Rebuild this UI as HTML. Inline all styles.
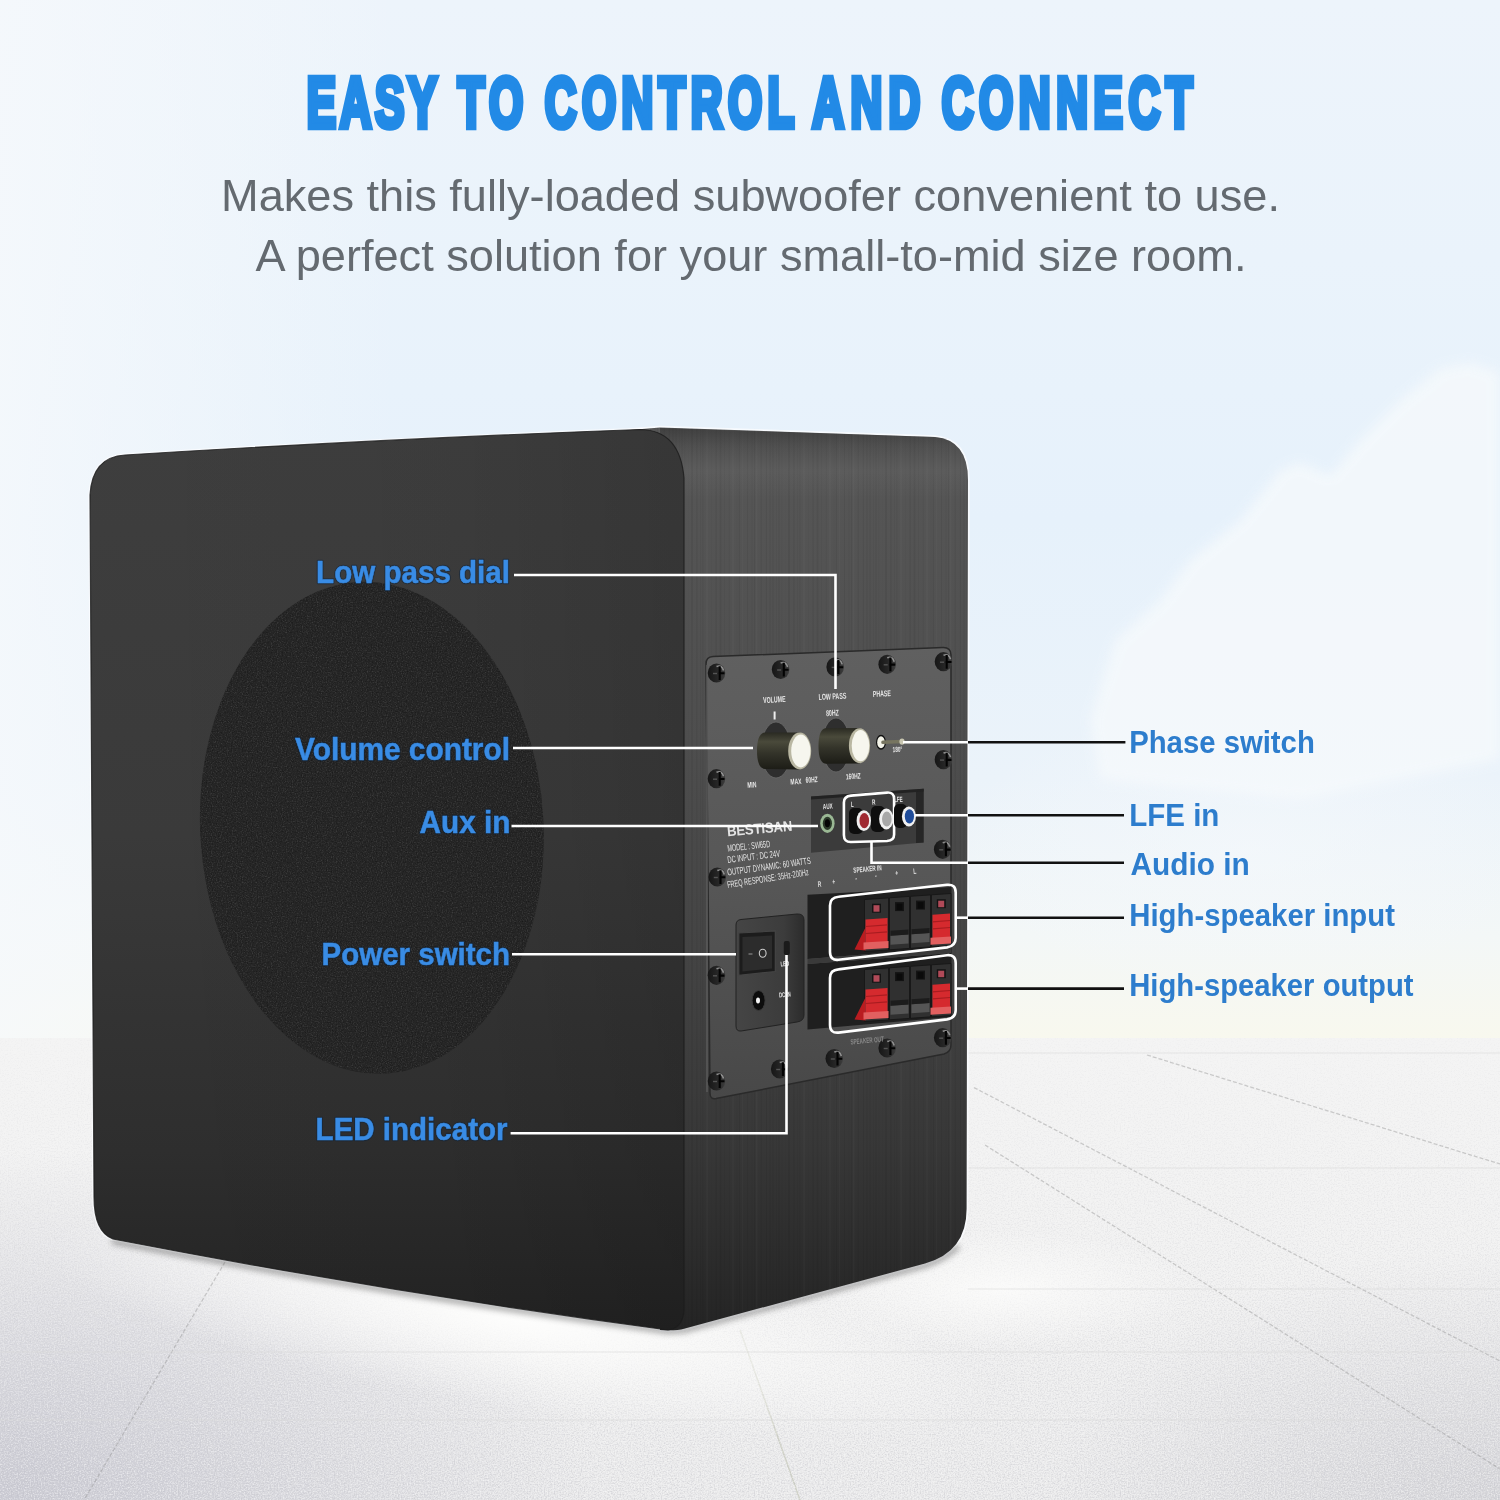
<!DOCTYPE html>
<html><head><meta charset="utf-8">
<style>
html,body{margin:0;padding:0;}
body{width:1500px;height:1500px;overflow:hidden;position:relative;font-family:"Liberation Sans",sans-serif;background:#eef4fa;}
svg{position:absolute;left:0;top:0;}
</style></head>
<body>
<svg width="1500" height="1500" viewBox="0 0 1500 1500">
<defs>
  <linearGradient id="sky" x1="0" y1="0" x2="0" y2="1">
    <stop offset="0" stop-color="#edf4fb"/>
    <stop offset="0.25" stop-color="#eaf3fb"/>
    <stop offset="0.5" stop-color="#e6f1fb"/>
    <stop offset="0.75" stop-color="#ebf3fa"/>
    <stop offset="0.9" stop-color="#f3f7f7"/>
    <stop offset="1" stop-color="#f8f8ee"/>
  </linearGradient>
  <linearGradient id="skyleft" x1="0" y1="0" x2="1" y2="0">
    <stop offset="0" stop-color="#f6f9fc" stop-opacity="0.8"/>
    <stop offset="1" stop-color="#f6f9fc" stop-opacity="0"/>
  </linearGradient>
  <radialGradient id="cloud" cx="0.5" cy="0.5" r="0.5">
    <stop offset="0" stop-color="#f7fafd" stop-opacity="0.9"/>
    <stop offset="0.6" stop-color="#f5f8fc" stop-opacity="0.5"/>
    <stop offset="1" stop-color="#f5f8fc" stop-opacity="0"/>
  </radialGradient>
  <linearGradient id="floor" x1="0" y1="0" x2="0" y2="1">
    <stop offset="0" stop-color="#f4f4f4"/>
    <stop offset="0.5" stop-color="#f1f1f1"/>
    <stop offset="1" stop-color="#eaeaeb"/>
  </linearGradient>
  <radialGradient id="floorBL" cx="0" cy="1" r="1">
    <stop offset="0" stop-color="#c9c9d2" stop-opacity="0.9"/>
    <stop offset="1" stop-color="#c9c9d2" stop-opacity="0"/>
  </radialGradient>
  <radialGradient id="floorBR" cx="1" cy="1" r="1">
    <stop offset="0" stop-color="#cfcfd4" stop-opacity="0.7"/>
    <stop offset="1" stop-color="#cfcfd4" stop-opacity="0"/>
  </radialGradient>
  <radialGradient id="refl" cx="0.5" cy="0.5" r="0.5">
    <stop offset="0" stop-color="#fdfdfc" stop-opacity="1"/>
    <stop offset="1" stop-color="#fdfdfc" stop-opacity="0"/>
  </radialGradient>
  <linearGradient id="frontH" x1="0" y1="0" x2="1" y2="0">
    <stop offset="0" stop-color="#000" stop-opacity="0"/>
    <stop offset="0.6" stop-color="#000" stop-opacity="0.03"/>
    <stop offset="1" stop-color="#000" stop-opacity="0.12"/>
  </linearGradient>
  <linearGradient id="sideTop" x1="0" y1="0" x2="0" y2="1">
    <stop offset="0" stop-color="#2a2a2a" stop-opacity="0.5"/>
    <stop offset="0.25" stop-color="#2a2a2a" stop-opacity="0.15"/>
    <stop offset="0.6" stop-color="#8a8a8a" stop-opacity="0.12"/>
    <stop offset="1" stop-color="#8a8a8a" stop-opacity="0"/>
  </linearGradient>
  <pattern id="brush" x="0" y="0" width="97" height="10" patternUnits="userSpaceOnUse"><rect x="0.0" y="0" width="1" height="10" fill="#000" opacity="0.040"/><rect x="2.2" y="0" width="1.6" height="10" fill="#000" opacity="0.038"/><rect x="5.0" y="0" width="1.6" height="10" fill="#000" opacity="0.022"/><rect x="9.1" y="0" width="0.6" height="10" fill="#000" opacity="0.025"/><rect x="12.2" y="0" width="1.6" height="10" fill="#000" opacity="0.067"/><rect x="17.0" y="0" width="1.6" height="10" fill="#000" opacity="0.049"/><rect x="21.0" y="0" width="0.8" height="10" fill="#000" opacity="0.048"/><rect x="23.2" y="0" width="1.2" height="10" fill="#000" opacity="0.047"/><rect x="27.4" y="0" width="1.6" height="10" fill="#fff" opacity="0.020"/><rect x="32.1" y="0" width="0.8" height="10" fill="#000" opacity="0.025"/><rect x="36.4" y="0" width="1.6" height="10" fill="#000" opacity="0.051"/><rect x="40.7" y="0" width="1.6" height="10" fill="#000" opacity="0.059"/><rect x="44.9" y="0" width="1.2" height="10" fill="#000" opacity="0.035"/><rect x="49.9" y="0" width="0.8" height="10" fill="#000" opacity="0.049"/><rect x="53.5" y="0" width="1" height="10" fill="#fff" opacity="0.026"/><rect x="57.7" y="0" width="0.6" height="10" fill="#000" opacity="0.046"/><rect x="59.9" y="0" width="1" height="10" fill="#000" opacity="0.067"/><rect x="63.3" y="0" width="0.6" height="10" fill="#fff" opacity="0.029"/><rect x="68.0" y="0" width="1" height="10" fill="#000" opacity="0.055"/><rect x="72.1" y="0" width="1.6" height="10" fill="#000" opacity="0.023"/><rect x="75.0" y="0" width="1" height="10" fill="#000" opacity="0.055"/><rect x="77.2" y="0" width="1" height="10" fill="#fff" opacity="0.029"/><rect x="81.6" y="0" width="1.2" height="10" fill="#000" opacity="0.056"/><rect x="86.9" y="0" width="1" height="10" fill="#000" opacity="0.067"/><rect x="90.2" y="0" width="1.6" height="10" fill="#000" opacity="0.045"/><rect x="93.5" y="0" width="1" height="10" fill="#000" opacity="0.057"/></pattern>
  <linearGradient id="front" x1="0" y1="0" x2="0" y2="1">
    <stop offset="0" stop-color="#3e3e3e"/>
    <stop offset="0.45" stop-color="#3a3a3a"/>
    <stop offset="0.8" stop-color="#2e2e2e"/>
    <stop offset="1" stop-color="#232323"/>
  </linearGradient>
  <linearGradient id="side" x1="0" y1="0" x2="0" y2="1">
    <stop offset="0" stop-color="#575757"/>
    <stop offset="0.35" stop-color="#4e4e4e"/>
    <stop offset="0.6" stop-color="#434343"/>
    <stop offset="0.8" stop-color="#373737"/>
    <stop offset="1" stop-color="#242424"/>
  </linearGradient>
  <linearGradient id="panelG" x1="0" y1="0" x2="0" y2="1">
    <stop offset="0" stop-color="#606060"/>
    <stop offset="0.5" stop-color="#575757"/>
    <stop offset="1" stop-color="#484848"/>
  </linearGradient>
  <linearGradient id="pwrG" x1="0" y1="0" x2="1" y2="0">
    <stop offset="0" stop-color="#454545"/>
    <stop offset="0.7" stop-color="#3c3c3c"/>
    <stop offset="1" stop-color="#2c2c2c"/>
  </linearGradient>
  <linearGradient id="screwG" x1="0" y1="0" x2="1" y2="0">
    <stop offset="0" stop-color="#161616"/>
    <stop offset="0.55" stop-color="#262626"/>
    <stop offset="1" stop-color="#3e3e3e"/>
  </linearGradient>
  <filter id="blur6" x="-10%" y="-10%" width="120%" height="120%"><feGaussianBlur stdDeviation="6"/></filter>
  <filter id="fabricL" x="0" y="0" width="100%" height="100%">
    <feTurbulence type="fractalNoise" baseFrequency="0.8" numOctaves="2" seed="3"/>
    <feColorMatrix type="matrix" values="0 0 0 0 1  0 0 0 0 1  0 0 0 0 1  2.5 0 0 0 -1.3"/>
  </filter>
  <filter id="fabricD" x="0" y="0" width="100%" height="100%">
    <feTurbulence type="fractalNoise" baseFrequency="0.8" numOctaves="2" seed="3"/>
    <feColorMatrix type="matrix" values="0 0 0 0 0  0 0 0 0 0  0 0 0 0 0  -2.5 0 0 0 1.2"/>
  </filter>
  <filter id="floorNoiseD" x="0" y="0" width="100%" height="100%">
    <feTurbulence type="fractalNoise" baseFrequency="0.7" numOctaves="2" seed="11"/>
    <feColorMatrix type="matrix" values="0 0 0 0 0.45  0 0 0 0 0.45  0 0 0 0 0.5  -3 0 0 0 1.55"/>
  </filter>
  <filter id="floorNoiseL" x="0" y="0" width="100%" height="100%">
    <feTurbulence type="fractalNoise" baseFrequency="0.7" numOctaves="2" seed="11"/>
    <feColorMatrix type="matrix" values="0 0 0 0 1  0 0 0 0 1  0 0 0 0 1  3 0 0 0 -1.5"/>
  </filter>
  <linearGradient id="noiseMaskG" x1="0" y1="0" x2="0" y2="1">
    <stop offset="0" stop-color="#fff" stop-opacity="0.15"/>
    <stop offset="1" stop-color="#fff" stop-opacity="1"/>
  </linearGradient>
  <mask id="noiseMask" maskUnits="userSpaceOnUse" x="0" y="1038" width="1500" height="462"><rect x="0" y="1038" width="1500" height="462" fill="url(#noiseMaskG)"/></mask>
  <clipPath id="grilleClip"><ellipse cx="371.85" cy="827.8" rx="171.7" ry="246.2" transform="rotate(-3.09 371.85 827.8)"/></clipPath>
  <linearGradient id="knobG" x1="0" y1="0" x2="0" y2="1">
    <stop offset="0" stop-color="#2a2a22"/>
    <stop offset="0.25" stop-color="#4a4a3b"/>
    <stop offset="0.55" stop-color="#34342a"/>
    <stop offset="1" stop-color="#1c1c16"/>
  </linearGradient>
  <filter id="blur3" x="-10%" y="-10%" width="120%" height="120%"><feGaussianBlur stdDeviation="3"/></filter>
  <filter id="blur1" x="-10%" y="-10%" width="120%" height="120%"><feGaussianBlur stdDeviation="1.2"/></filter>
</defs>
<rect x="0" y="0" width="1500" height="1040" fill="url(#sky)"/>
<rect x="0" y="0" width="400" height="1040" fill="url(#skyleft)"/>
<path d="M1090 720 L1115 640 L1160 600 L1190 560 L1240 520 L1280 470 L1300 462 L1330 475 L1360 440 L1400 400 L1440 368 L1470 362 L1500 372 L1500 760 L1300 800 L1100 780 Z" fill="#f5f9fc" opacity="0.85" filter="url(#blur6)"/>
<ellipse cx="1250" cy="850" rx="300" ry="150" fill="url(#cloud)" opacity="0.5"/>
<rect x="0" y="1038" width="1500" height="462" fill="url(#floor)"/>
<rect x="0" y="1150" width="600" height="350" fill="url(#floorBL)"/>
<rect x="1050" y="1250" width="450" height="250" fill="url(#floorBR)"/>
<path d="M740 1330 L800 1500" stroke="#b4b8a0" stroke-width="1.5" opacity="0.45"/>
<g mask="url(#noiseMask)">
<rect x="0" y="1038" width="1500" height="462" filter="url(#floorNoiseD)" opacity="0.35"/>
<rect x="0" y="1038" width="1500" height="462" filter="url(#floorNoiseL)" opacity="0.5"/>
</g>
<ellipse cx="520" cy="1320" rx="480" ry="90" fill="url(#refl)" transform="rotate(9 520 1320)"/>
<ellipse cx="1000" cy="1290" rx="200" ry="60" fill="url(#refl)" opacity="0.8"/>
<g stroke="#8c8c8c" stroke-width="1.3" fill="none" opacity="0.4" stroke-dasharray="4 2">
<path d="M974 1087.6 L1500 1361"/>
<path d="M985 1145 L1500 1469"/>
<path d="M1147 1055 L1500 1164"/>
<path d="M225 1262 L84 1500"/>
</g>
<g stroke="#dadada" stroke-width="1.2" fill="none" opacity="0.6">
<path d="M968 1053 H1500"/>
<path d="M968 1168 H1500"/>
<path d="M968 1289 H1500"/>
<path d="M0 1352 H1500"/>
<path d="M0 1420 H1500"/>
</g>

<!-- speaker silhouette (side color) -->
<path d="M630 430 L660 427.5 L935 437 Q968 440 968 480 L966.6 1208 Q967 1252 925 1263.5 L684 1328.8 Q676 1331 660 1330 Z" fill="none" stroke="#fbfdff" stroke-width="3.5" opacity="0.8"/><path d="M90 495 Q92 457 125 455 Q390 438.5 640 429.5 Q680 430 684 478 L684 1310 Q683 1328 668 1330 Q390 1292.5 113 1239 Q94 1232 94 1197 Z" fill="none" stroke="#fbfdff" stroke-width="3.5" opacity="0.8"/>
<path d="M112 1241 Q390 1294.5 668 1331 L684 1330 L925 1265 Q945 1259 958 1246" stroke="#555" stroke-width="5" fill="none" filter="url(#blur3)" opacity="0.6"/>
<path d="M630 430 L660 427.5 L935 437 Q968 440 968 480 L966.6 1208 Q967 1252 925 1263.5 L684 1328.8 Q676 1331 660 1330 Z" fill="url(#side)"/>
<!-- front face -->
<path d="M630 430 L660 427.5 L935 437 Q968 440 968 480 L966.6 1208 Q967 1252 925 1263.5 L684 1328.8 Q676 1331 660 1330 Z" fill="url(#brush)"/>
<path d="M660 428 L935 437 Q968 440 968 480 L968 500 L660 500 Z" fill="url(#sideTop)"/>
<path d="M90 495 Q92 457 125 455 Q390 438.5 640 429.5 Q680 430 684 478 L684 1310 Q683 1328 668 1330 Q390 1292.5 113 1239 Q94 1232 94 1197 Z" fill="url(#front)"/>
<path d="M90 495 Q92 457 125 455 Q390 438.5 640 429.5 Q680 430 684 478 L684 1310 Q683 1328 668 1330 Q390 1292.5 113 1239 Q94 1232 94 1197 Z" fill="url(#frontH)"/>
<path d="M90 495 Q92 457 125 455 Q390 438.5 640 429.5 Q680 430 684 478 L684 1310 Q683 1328 668 1330 Q390 1292.5 113 1239 Q94 1232 94 1197 Z" fill="none" stroke="#1c1c1c" stroke-width="1.2" opacity="0.8"/>
<!-- grille -->
<ellipse cx="371.85" cy="827.8" rx="171.7" ry="246.2" transform="rotate(-3.09 371.85 827.8)" fill="#262626"/>
<rect x="200" y="583" width="346" height="494" filter="url(#fabricL)" clip-path="url(#grilleClip)" opacity="0.12"/>
<rect x="200" y="583" width="346" height="494" filter="url(#fabricD)" clip-path="url(#grilleClip)" opacity="0.35"/>
<!-- back panel -->
<path d="M706 664 Q706 657 713 656.6 L943 647.6 Q951 647.4 951 655 L951 1045 Q951 1052 944 1054 L716 1098.6 Q710 1099.6 710 1093 Z" fill="url(#panelG)" stroke="#2a2a2a" stroke-width="1.5"/>
<path d="M707 665 L707 1092" stroke="#5a5a5a" stroke-width="1.5"/>
<!-- jack recess -->
<path d="M811 796.5 L923.6 788.7 L923.6 842.4 L811 852.8 Z" fill="#3b3b3b"/>
<path d="M916 790 L923.6 788.7 L923.6 842.4 L916 843 Z" fill="#262626"/>
<path d="M811 796.5 L923.6 788.7 L923.6 791.5 L811 799.5 Z" fill="#222"/>
<!-- power module -->
<path d="M741 919.5 L797 914 Q804 913.6 804 920 L804 1015 Q804 1021 797 1022 L741 1031 Q736 1031.5 736 1026 L736 925 Q736 920 741 919.5 Z" fill="url(#pwrG)" stroke="#222" stroke-width="1"/>
<!-- rocker -->
<path d="M738.8 933 L775.3 931 L775.3 971.5 L738.8 975.3 Z" fill="#1c1c1c" stroke="#444" stroke-width="1.2"/>
<path d="M742.5 937 L772 935.5 L772 968.5 L742.5 971.5 Z" fill="#2c2c2c"/>
<path d="M748.5 954 H752.5" stroke="#888" stroke-width="1.2"/>
<ellipse cx="762.7" cy="953.2" rx="3.4" ry="4" fill="none" stroke="#ccc" stroke-width="1.1"/>
<!-- DC jack -->
<ellipse cx="758.6" cy="1000.5" rx="6.5" ry="10" fill="#0c0c0c" stroke="#3a3a3a" stroke-width="1"/>
<ellipse cx="758" cy="1000.5" rx="2" ry="3" fill="#f4f4f4"/>
<!-- LED -->
<rect x="783.8" y="941" width="6" height="14" rx="2" fill="#1b1b1b"/>
<!-- terminal blocks -->
<path d="M807.5 894.7 L951 887 L951 947.6 L807.5 959 Z" fill="#1f1f1f"/>
<path d="M807.5 964 L951 953 L951 1017 L807.5 1029.5 Z" fill="#1f1f1f"/>
<path d="M807.5 959 L951 947.6 L951 953 L807.5 964 Z" fill="#3a3a3a"/>
<path d="M864.5 899.5 L888.5 897.9 L888.5 949.9 L864.5 951.5 Z" fill="#303030" stroke="#161616" stroke-width="0.9"/><rect x="872.0" y="903.7" width="9" height="9" fill="#141414"/><rect x="873.5" y="905.2" width="6" height="6.5" fill="#b04a58"/><path d="M865.5 927.5 L854.5 949.5 L865.5 950.5 Z" fill="#b91c20"/><path d="M865.5 919.5 L887.5 917.9 L887.5 941.9 L865.5 943.5 Z" fill="#d52a2e"/><path d="M865.5 926.5 L887.5 924.9 M865.5 933.5 L887.5 931.9" stroke="#a81c20" stroke-width="1.2"/><path d="M863.5 942.5 L888.5 940.9 L888.5 947.9 L863.5 949.5 Z" fill="#e26060"/><path d="M889.5 897.8 L909.5 896.4 L909.5 948.4 L889.5 949.8 Z" fill="#303030" stroke="#161616" stroke-width="0.9"/><rect x="895.0" y="902.1" width="9" height="9" fill="#141414"/><rect x="896.5" y="903.6" width="6" height="6.5" fill="#0a0a0a"/><path d="M890.5 935.8 L908.5 934.4 L908.5 943.4 L890.5 944.8 Z" fill="#555"/><path d="M890.5 930.8 L908.5 929.4 L908.5 934.4 L890.5 935.8 Z" fill="#1c1c1c"/><path d="M910.5 896.3 L930.5 894.9 L930.5 946.9 L910.5 948.3 Z" fill="#303030" stroke="#161616" stroke-width="0.9"/><rect x="916.0" y="900.6" width="9" height="9" fill="#141414"/><rect x="917.5" y="902.1" width="6" height="6.5" fill="#0a0a0a"/><path d="M911.5 934.3 L929.5 932.9 L929.5 941.9 L911.5 943.3 Z" fill="#555"/><path d="M911.5 929.3 L929.5 927.9 L929.5 932.9 L911.5 934.3 Z" fill="#1c1c1c"/><path d="M931.5 894.8 L951 893.5 L951 945.5 L931.5 946.8 Z" fill="#303030" stroke="#161616" stroke-width="0.9"/><rect x="936.8" y="899.2" width="9" height="9" fill="#141414"/><rect x="938.2" y="900.7" width="6" height="6.5" fill="#b04a58"/><path d="M932.5 914.8 L950 913.5 L950 937.5 L932.5 938.8 Z" fill="#d52a2e"/><path d="M932.5 921.8 L950 920.5 M932.5 928.8 L950 927.5" stroke="#a81c20" stroke-width="1.2"/><path d="M930.5 937.8 L951 936.5 L951 943.5 L930.5 944.8 Z" fill="#e26060"/><path d="M864.5 969.5 L888.5 967.9 L888.5 1019.9 L864.5 1021.5 Z" fill="#303030" stroke="#161616" stroke-width="0.9"/><rect x="872.0" y="973.7" width="9" height="9" fill="#141414"/><rect x="873.5" y="975.2" width="6" height="6.5" fill="#b04a58"/><path d="M865.5 997.5 L854.5 1019.5 L865.5 1020.5 Z" fill="#b91c20"/><path d="M865.5 989.5 L887.5 987.9 L887.5 1011.9 L865.5 1013.5 Z" fill="#d52a2e"/><path d="M865.5 996.5 L887.5 994.9 M865.5 1003.5 L887.5 1001.9" stroke="#a81c20" stroke-width="1.2"/><path d="M863.5 1012.5 L888.5 1010.9 L888.5 1017.9 L863.5 1019.5 Z" fill="#e26060"/><path d="M889.5 967.8 L909.5 966.4 L909.5 1018.4 L889.5 1019.8 Z" fill="#303030" stroke="#161616" stroke-width="0.9"/><rect x="895.0" y="972.1" width="9" height="9" fill="#141414"/><rect x="896.5" y="973.6" width="6" height="6.5" fill="#0a0a0a"/><path d="M890.5 1005.8 L908.5 1004.4 L908.5 1013.4 L890.5 1014.8 Z" fill="#555"/><path d="M890.5 1000.8 L908.5 999.4 L908.5 1004.4 L890.5 1005.8 Z" fill="#1c1c1c"/><path d="M910.5 966.3 L930.5 964.9 L930.5 1016.9 L910.5 1018.3 Z" fill="#303030" stroke="#161616" stroke-width="0.9"/><rect x="916.0" y="970.6" width="9" height="9" fill="#141414"/><rect x="917.5" y="972.1" width="6" height="6.5" fill="#0a0a0a"/><path d="M911.5 1004.3 L929.5 1002.9 L929.5 1011.9 L911.5 1013.3 Z" fill="#555"/><path d="M911.5 999.3 L929.5 997.9 L929.5 1002.9 L911.5 1004.3 Z" fill="#1c1c1c"/><path d="M931.5 964.8 L951 963.5 L951 1015.5 L931.5 1016.8 Z" fill="#303030" stroke="#161616" stroke-width="0.9"/><rect x="936.8" y="969.2" width="9" height="9" fill="#141414"/><rect x="938.2" y="970.7" width="6" height="6.5" fill="#b04a58"/><path d="M932.5 984.8 L950 983.5 L950 1007.5 L932.5 1008.8 Z" fill="#d52a2e"/><path d="M932.5 991.8 L950 990.5 M932.5 998.8 L950 997.5" stroke="#a81c20" stroke-width="1.2"/><path d="M930.5 1007.8 L951 1006.5 L951 1013.5 L930.5 1014.8 Z" fill="#e26060"/>
<!-- white outlines -->
<g fill="none" stroke="#fff" stroke-width="2.6">
<path d="M838.5 896.8 L947 884.8 Q955.7 884 955.7 892.5 L955.7 938 Q955.7 946 947 947.4 L838.5 959.8 Q830 960.6 830 952 L830 905.5 Q830 897.5 838.5 896.8 Z"/>
<path d="M838.5 969.4 L947 955.2 Q955.7 954.4 955.7 963 L955.7 1010 Q955.7 1018 947 1019.4 L838.5 1032.6 Q830 1033.4 830 1025 L830 978 Q830 970 838.5 969.4 Z"/>
<path d="M851 795.6 L887 792.6 Q894.1 792 894.1 799 L894.1 834.5 Q894.1 840.5 887 841 L851 842 Q843.9 842.2 843.9 835 L843.9 802.5 Q843.9 796.2 851 795.6 Z"/>
</g>
<!-- jacks -->
<ellipse cx="827.4" cy="823.3" rx="7.2" ry="9.6" fill="#9ab894"/>
<ellipse cx="827.4" cy="823.3" rx="4.6" ry="6.6" fill="#2c3a2a"/>
<ellipse cx="827.4" cy="823.3" rx="2.6" ry="4" fill="#050505"/>
<rect x="849" y="808" width="14" height="26" rx="5" fill="#0e0e0e"/>
<ellipse cx="863.8" cy="820.7" rx="7.2" ry="10.4" fill="#f0f0f0"/>
<ellipse cx="864.3" cy="820.7" rx="4.8" ry="7.6" fill="#a02a32"/>
<rect x="871" y="806" width="14" height="26" rx="5" fill="#0e0e0e"/>
<ellipse cx="886.3" cy="819" rx="7.2" ry="10.4" fill="#f0f0f0"/>
<ellipse cx="886.8" cy="819" rx="4.8" ry="7.6" fill="#a8a8a8"/>
<rect x="894" y="804" width="13" height="24" rx="5" fill="#0e0e0e"/>
<ellipse cx="908.9" cy="816.4" rx="7" ry="10" fill="#f0f0f0"/>
<ellipse cx="909.4" cy="816.4" rx="4.6" ry="7.2" fill="#1f4c9a"/>
<!-- knobs -->
<ellipse cx="776" cy="750" rx="15" ry="28" fill="#2e2e2e" stroke="#6a6a6a" stroke-width="0.8"/>
<path d="M800 732.5 L765 732.5 Q757 733 757 750.5 Q757 768.5 765 769 L800 769.5 Z" fill="url(#knobG)"/>
<ellipse cx="799.7" cy="751" rx="11.5" ry="18.4" fill="#b9b7a2"/>
<ellipse cx="800.8" cy="751" rx="9.6" ry="16.4" fill="#f6f6ee"/>
<ellipse cx="836" cy="745" rx="14" ry="27" fill="#2e2e2e" stroke="#6a6a6a" stroke-width="0.8"/>
<path d="M860 728 L826 728.2 Q818.5 728.6 818.5 746 Q818.5 763.4 826 763.8 L860 763.5 Z" fill="url(#knobG)"/>
<ellipse cx="859.5" cy="745.7" rx="10.6" ry="17.5" fill="#b9b7a2"/>
<ellipse cx="860.5" cy="745.7" rx="8.8" ry="15.6" fill="#f6f6ee"/>
<!-- phase toggle -->
<ellipse cx="881" cy="742.3" rx="5" ry="7.5" fill="#111"/>
<ellipse cx="881" cy="742.3" rx="3.8" ry="6" fill="#f2f2e8"/>
<path d="M883 742.3 L902 741.5" stroke="#777560" stroke-width="3.6" stroke-linecap="round"/>
<ellipse cx="902" cy="741.6" rx="2.6" ry="3.2" fill="#c8c6b0"/>
<!-- volume tick -->
<rect x="773.6" y="711.5" width="2" height="8" fill="#eee"/>
<g transform="translate(716.5 673)"><ellipse rx="8.8" ry="9.6" fill="url(#screwG)"/><path d="M0 -6.5 Q5.5 -8.5 7 -2.5" stroke="#a0a0a0" stroke-width="1.6" fill="none" opacity="0.85"/><path d="M3.2 -6.8 V7 M2 0.3 H8" stroke="#030303" stroke-width="2.1" fill="none"/><path d="M-3.5 0.5 H0.5" stroke="#777" stroke-width="1.4" opacity="0.6"/></g><g transform="translate(780.6 669.5)"><ellipse rx="8.8" ry="9.6" fill="url(#screwG)"/><path d="M0 -6.5 Q5.5 -8.5 7 -2.5" stroke="#a0a0a0" stroke-width="1.6" fill="none" opacity="0.85"/><path d="M3.2 -6.8 V7 M2 0.3 H8" stroke="#030303" stroke-width="2.1" fill="none"/><path d="M-3.5 0.5 H0.5" stroke="#777" stroke-width="1.4" opacity="0.6"/></g><g transform="translate(835.2 666.9)"><ellipse rx="8.8" ry="9.6" fill="url(#screwG)"/><path d="M0 -6.5 Q5.5 -8.5 7 -2.5" stroke="#a0a0a0" stroke-width="1.6" fill="none" opacity="0.85"/><path d="M3.2 -6.8 V7 M2 0.3 H8" stroke="#030303" stroke-width="2.1" fill="none"/><path d="M-3.5 0.5 H0.5" stroke="#777" stroke-width="1.4" opacity="0.6"/></g><g transform="translate(887.2 664.3)"><ellipse rx="8.8" ry="9.6" fill="url(#screwG)"/><path d="M0 -6.5 Q5.5 -8.5 7 -2.5" stroke="#a0a0a0" stroke-width="1.6" fill="none" opacity="0.85"/><path d="M3.2 -6.8 V7 M2 0.3 H8" stroke="#030303" stroke-width="2.1" fill="none"/><path d="M-3.5 0.5 H0.5" stroke="#777" stroke-width="1.4" opacity="0.6"/></g><g transform="translate(943.5 661.7)"><ellipse rx="8.8" ry="9.6" fill="url(#screwG)"/><path d="M0 -6.5 Q5.5 -8.5 7 -2.5" stroke="#a0a0a0" stroke-width="1.6" fill="none" opacity="0.85"/><path d="M3.2 -6.8 V7 M2 0.3 H8" stroke="#030303" stroke-width="2.1" fill="none"/><path d="M-3.5 0.5 H0.5" stroke="#777" stroke-width="1.4" opacity="0.6"/></g><g transform="translate(716.5 778.7)"><ellipse rx="8.8" ry="9.6" fill="url(#screwG)"/><path d="M0 -6.5 Q5.5 -8.5 7 -2.5" stroke="#a0a0a0" stroke-width="1.6" fill="none" opacity="0.85"/><path d="M3.2 -6.8 V7 M2 0.3 H8" stroke="#030303" stroke-width="2.1" fill="none"/><path d="M-3.5 0.5 H0.5" stroke="#777" stroke-width="1.4" opacity="0.6"/></g><g transform="translate(943.5 759.6)"><ellipse rx="8.8" ry="9.6" fill="url(#screwG)"/><path d="M0 -6.5 Q5.5 -8.5 7 -2.5" stroke="#a0a0a0" stroke-width="1.6" fill="none" opacity="0.85"/><path d="M3.2 -6.8 V7 M2 0.3 H8" stroke="#030303" stroke-width="2.1" fill="none"/><path d="M-3.5 0.5 H0.5" stroke="#777" stroke-width="1.4" opacity="0.6"/></g><g transform="translate(717.3 877)"><ellipse rx="8.8" ry="9.6" fill="url(#screwG)"/><path d="M0 -6.5 Q5.5 -8.5 7 -2.5" stroke="#a0a0a0" stroke-width="1.6" fill="none" opacity="0.85"/><path d="M3.2 -6.8 V7 M2 0.3 H8" stroke="#030303" stroke-width="2.1" fill="none"/><path d="M-3.5 0.5 H0.5" stroke="#777" stroke-width="1.4" opacity="0.6"/></g><g transform="translate(942.7 849.3)"><ellipse rx="8.8" ry="9.6" fill="url(#screwG)"/><path d="M0 -6.5 Q5.5 -8.5 7 -2.5" stroke="#a0a0a0" stroke-width="1.6" fill="none" opacity="0.85"/><path d="M3.2 -6.8 V7 M2 0.3 H8" stroke="#030303" stroke-width="2.1" fill="none"/><path d="M-3.5 0.5 H0.5" stroke="#777" stroke-width="1.4" opacity="0.6"/></g><g transform="translate(716.5 975.3)"><ellipse rx="8.8" ry="9.6" fill="url(#screwG)"/><path d="M0 -6.5 Q5.5 -8.5 7 -2.5" stroke="#a0a0a0" stroke-width="1.6" fill="none" opacity="0.85"/><path d="M3.2 -6.8 V7 M2 0.3 H8" stroke="#030303" stroke-width="2.1" fill="none"/><path d="M-3.5 0.5 H0.5" stroke="#777" stroke-width="1.4" opacity="0.6"/></g><g transform="translate(716.5 1081)"><ellipse rx="8.8" ry="9.6" fill="url(#screwG)"/><path d="M0 -6.5 Q5.5 -8.5 7 -2.5" stroke="#a0a0a0" stroke-width="1.6" fill="none" opacity="0.85"/><path d="M3.2 -6.8 V7 M2 0.3 H8" stroke="#030303" stroke-width="2.1" fill="none"/><path d="M-3.5 0.5 H0.5" stroke="#777" stroke-width="1.4" opacity="0.6"/></g><g transform="translate(779.7 1069)"><ellipse rx="8.8" ry="9.6" fill="url(#screwG)"/><path d="M0 -6.5 Q5.5 -8.5 7 -2.5" stroke="#a0a0a0" stroke-width="1.6" fill="none" opacity="0.85"/><path d="M3.2 -6.8 V7 M2 0.3 H8" stroke="#030303" stroke-width="2.1" fill="none"/><path d="M-3.5 0.5 H0.5" stroke="#777" stroke-width="1.4" opacity="0.6"/></g><g transform="translate(834.3 1058.5)"><ellipse rx="8.8" ry="9.6" fill="url(#screwG)"/><path d="M0 -6.5 Q5.5 -8.5 7 -2.5" stroke="#a0a0a0" stroke-width="1.6" fill="none" opacity="0.85"/><path d="M3.2 -6.8 V7 M2 0.3 H8" stroke="#030303" stroke-width="2.1" fill="none"/><path d="M-3.5 0.5 H0.5" stroke="#777" stroke-width="1.4" opacity="0.6"/></g><g transform="translate(887.2 1048)"><ellipse rx="8.8" ry="9.6" fill="url(#screwG)"/><path d="M0 -6.5 Q5.5 -8.5 7 -2.5" stroke="#a0a0a0" stroke-width="1.6" fill="none" opacity="0.85"/><path d="M3.2 -6.8 V7 M2 0.3 H8" stroke="#030303" stroke-width="2.1" fill="none"/><path d="M-3.5 0.5 H0.5" stroke="#777" stroke-width="1.4" opacity="0.6"/></g><g transform="translate(942.7 1037.7)"><ellipse rx="8.8" ry="9.6" fill="url(#screwG)"/><path d="M0 -6.5 Q5.5 -8.5 7 -2.5" stroke="#a0a0a0" stroke-width="1.6" fill="none" opacity="0.85"/><path d="M3.2 -6.8 V7 M2 0.3 H8" stroke="#030303" stroke-width="2.1" fill="none"/><path d="M-3.5 0.5 H0.5" stroke="#777" stroke-width="1.4" opacity="0.6"/></g>
<g fill="#e8e8e8" font-family="Liberation Sans" font-weight="bold" text-anchor="middle" opacity="0.995">
<text transform="translate(774.5 702.5) rotate(-3) scale(0.62 1)" font-size="8.5">VOLUME</text>
<text transform="translate(832.6 699.3) rotate(-3) scale(0.62 1)" font-size="8.5">LOW  PASS</text>
<text transform="translate(882 696.5) rotate(-3) scale(0.62 1)" font-size="8.5">PHASE</text>
<text transform="translate(832.6 715.8) rotate(-3) scale(0.62 1)" font-size="8.5">80HZ</text>
<text transform="translate(752 787.6) rotate(-3) scale(0.62 1)" font-size="8">MIN</text>
<text transform="translate(796 784.3) rotate(-3) scale(0.62 1)" font-size="8">MAX</text>
<text transform="translate(811.8 782.5) rotate(-3) scale(0.62 1)" font-size="8">60HZ</text>
<text transform="translate(853.4 779) rotate(-3) scale(0.62 1)" font-size="8">160HZ</text>
<text transform="translate(897.6 752) rotate(-3) scale(0.62 1)" font-size="7.5">180°</text>
<text transform="translate(828 809) rotate(-4) scale(0.62 1)" font-size="7.5">AUX</text>
<text transform="translate(852.5 807) rotate(-4) scale(0.62 1)" font-size="7.5">L</text>
<text transform="translate(874 804.7) rotate(-4) scale(0.62 1)" font-size="7.5">R</text>
<text transform="translate(898.5 802) rotate(-4) scale(0.62 1)" font-size="7.5">LFE</text>
<text transform="translate(867.7 871.5) rotate(-5) scale(0.62 1)" font-size="7.5">SPEAKER  IN</text>
<text transform="translate(785 966) rotate(-5) scale(0.62 1)" font-size="7">LED</text>
<text transform="translate(785 997) rotate(-5) scale(0.62 1)" font-size="7">DC IN</text>
</g>
<g fill="#ddd" font-family="Liberation Sans" font-weight="bold" opacity="0.995">
<text transform="translate(818 887) rotate(-5) scale(0.62 1)" font-size="8">R</text>
<text transform="translate(832.5 884.4) rotate(-5) scale(0.62 1)" font-size="8">+</text>
<text transform="translate(855.5 881) rotate(-5) scale(0.62 1)" font-size="8">-</text>
<text transform="translate(875.3 878.3) rotate(-5) scale(0.62 1)" font-size="8">-</text>
<text transform="translate(895.6 875.7) rotate(-5) scale(0.62 1)" font-size="8">+</text>
<text transform="translate(913.5 874) rotate(-5) scale(0.62 1)" font-size="8">L</text>
</g>
<g fill="#8a8a8a" font-family="Liberation Sans" font-weight="bold" text-anchor="middle" opacity="0.995">
<text transform="translate(867.3 1043) rotate(-5) scale(0.62 1)" font-size="7.5">SPEAKER  OUT</text>
</g>
<g fill="#e6e6e6" font-family="Liberation Sans" opacity="0.995">
<text transform="translate(727.5 836.3) rotate(-5) scale(0.73 0.8)" font-size="18" font-weight="bold" fill="#e4e4e4" letter-spacing="-0.2">BESTISAN</text>
<text transform="translate(727.7 851.5) rotate(-6) scale(0.58 1)" font-size="9.5">MODEL : SW65D</text>
<text transform="translate(727.7 863) rotate(-7) scale(0.62 1)" font-size="9.5">DC INPUT : DC 24V</text>
<text transform="translate(727.7 875.5) rotate(-8) scale(0.62 1)" font-size="9.5">OUTPUT DYNAMIC: 60 WATTS</text>
<text transform="translate(727.7 888) rotate(-9) scale(0.59 1)" font-size="9.5">FREQ RESPONSE: 35Hz-200Hz</text>
</g>

</svg>

<svg width="1500" height="1500" viewBox="0 0 1500 1500" style="font-family:'Liberation Sans',sans-serif">
<g font-size="71" font-weight="bold" fill="#228ae6" stroke="#228ae6" stroke-width="5.5" stroke-linejoin="miter" vector-effect="non-scaling-stroke" transform="scale(0.62 1)"><text x="494.76" y="127.2" textLength="210.48" lengthAdjust="spacing" vector-effect="non-scaling-stroke">EASY</text><text x="738.31" y="127.2" textLength="105.64" lengthAdjust="spacing" vector-effect="non-scaling-stroke">TO</text><text x="878.62" y="127.2" textLength="402.74" lengthAdjust="spacing" vector-effect="non-scaling-stroke">CONTROL</text><text x="1310.24" y="127.2" textLength="174.03" lengthAdjust="spacing" vector-effect="non-scaling-stroke">AND</text><text x="1518.95" y="127.2" textLength="404.68" lengthAdjust="spacing" vector-effect="non-scaling-stroke">CONNECT</text></g>
<text opacity="0.995" x="750.5" y="210.6" font-size="45.15" fill="#646a70" text-anchor="middle">Makes this fully-loaded subwoofer convenient to use.</text>
<text opacity="0.995" x="751" y="270.6" font-size="45.15" fill="#646a70" text-anchor="middle">A perfect solution for your small-to-mid size room.</text>
<g font-size="31" font-weight="bold" fill="none" stroke="#10263f" stroke-width="2.6" stroke-linejoin="round" opacity="0.55" text-anchor="end">
<text x="510" y="583.3" textLength="193.9" lengthAdjust="spacingAndGlyphs">Low pass dial</text>
<text x="510" y="759.6" textLength="215" lengthAdjust="spacingAndGlyphs">Volume control</text>
<text x="510.4" y="833" textLength="90.8" lengthAdjust="spacingAndGlyphs">Aux in</text>
<text x="510" y="964.7" textLength="188.4" lengthAdjust="spacingAndGlyphs">Power switch</text>
<text x="507.5" y="1140" textLength="191.9" lengthAdjust="spacingAndGlyphs">LED indicator</text>
</g><g font-size="31" font-weight="bold" fill="#3a8de6" stroke="#3a8de6" stroke-width="0.5" text-anchor="end" opacity="0.995">
<text x="510" y="583.3" textLength="193.9" lengthAdjust="spacingAndGlyphs">Low pass dial</text>
<text x="510" y="759.6" textLength="215" lengthAdjust="spacingAndGlyphs">Volume control</text>
<text x="510.4" y="833" textLength="90.8" lengthAdjust="spacingAndGlyphs">Aux in</text>
<text x="510" y="964.7" textLength="188.4" lengthAdjust="spacingAndGlyphs">Power switch</text>
<text x="507.5" y="1140" textLength="191.9" lengthAdjust="spacingAndGlyphs">LED indicator</text>
</g>
<g font-size="31" font-weight="bold" fill="#2d7dcd" opacity="0.995">
<text x="1129.2" y="753.3" textLength="185.6" lengthAdjust="spacingAndGlyphs">Phase switch</text>
<text x="1129.2" y="825.8" textLength="90.2" lengthAdjust="spacingAndGlyphs">LFE in</text>
<text x="1130.4" y="875.3" textLength="119.4" lengthAdjust="spacingAndGlyphs">Audio in</text>
<text x="1129.2" y="926.3" textLength="265.8" lengthAdjust="spacingAndGlyphs">High-speaker input</text>
<text x="1129.2" y="996" textLength="284.4" lengthAdjust="spacingAndGlyphs">High-speaker output</text>
</g>
<g stroke="#fff" stroke-width="2.6" fill="none">
<path d="M514 575 H835.5 V689"/>
<path d="M513 748 H753"/>
<path d="M511.5 826 H818"/>
<path d="M512 954.3 H736"/>
<path d="M510.6 1133.2 H786.5 V955"/>
<path d="M903 742.2 H968"/>
<path d="M915 815.2 H968"/>
<path d="M871.5 841.5 V862.8 H968"/>
<path d="M956 917.7 H968"/>
<path d="M956 988.6 H968"/>
</g>
<g stroke="#111" stroke-width="2.6" fill="none">
<path d="M968 742.2 H1125.4"/>
<path d="M968 815.2 H1124"/>
<path d="M968 862.8 H1124"/>
<path d="M968 917.7 H1124"/>
<path d="M968 988.6 H1124"/>
</g>
</svg>
</body></html>
